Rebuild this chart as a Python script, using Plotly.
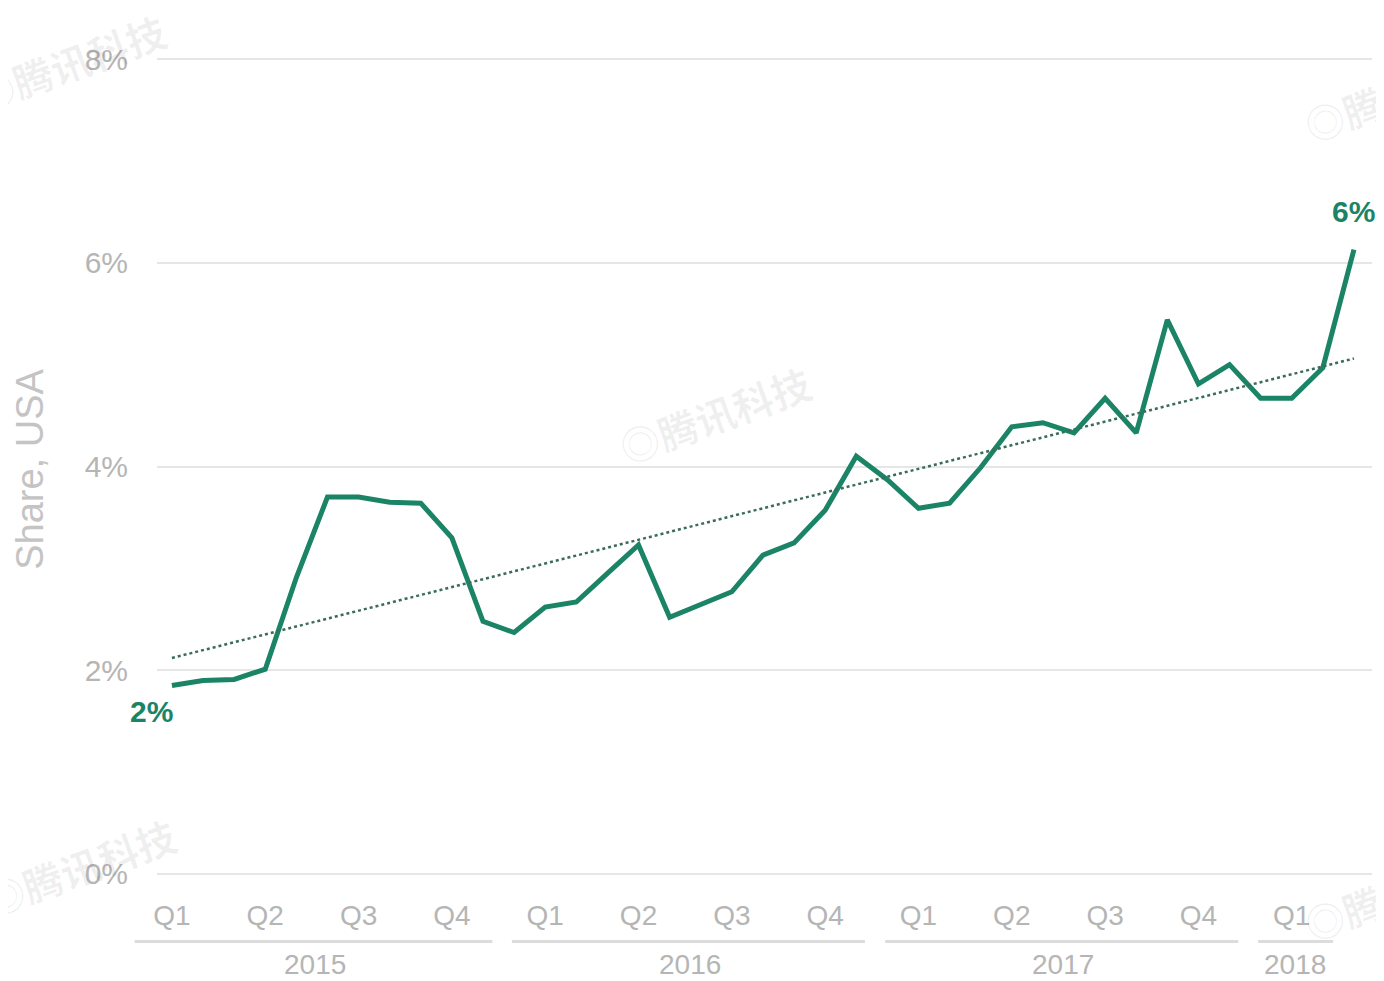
import pandas as pd
import plotly.graph_objects as go

# monthly share, USA (%)
months = [p.strftime("%Y-%m") for p in pd.period_range("2015-01", "2018-03", freq="M")]
share = [1.85, 1.90, 1.91, 2.01, 2.91, 3.70, 3.70, 3.65, 3.64, 3.30, 2.48, 2.37,
         2.62, 2.67, 2.95, 3.23, 2.52, 2.65, 2.77, 3.13, 3.25, 3.57, 4.10, 3.87,
         3.59, 3.64, 3.99, 4.39, 4.43, 4.33, 4.67, 4.33, 5.44, 4.81, 5.00, 4.67,
         4.67, 4.97, 6.13]
trend = [2.12, 5.06]
quarter_labels = ["Q1", "Q2", "Q3", "Q4"] * 3 + ["Q1"]
years = ["2015", "2016", "2017", "2018"]
y_ticks = [0, 2, 4, 6, 8]

GREEN = "#1b8466"
GREY = "#b5b5b5"
FONT = "Liberation Sans, Arial, sans-serif"
X0, X1 = -0.48, 38.58


def px(i):
    # category index -> paper x
    return (i - X0) / (X1 - X0)


fig = go.Figure()
fig.add_trace(go.Scatter(x=months, y=share, mode="lines",
                         line=dict(color=GREEN, width=5)))
fig.add_trace(go.Scatter(x=[months[0], months[-1]], y=trend, mode="lines",
                         line=dict(color="#3b6b5c", width=2.5, dash="dot"),
                         hoverinfo="skip"))

# end labels
fig.add_annotation(x=months[0], y=share[0], text=f"{round(share[0])}%", showarrow=False,
                   xshift=-20, yshift=-26, font=dict(size=30, color=GREEN, family=FONT, weight="bold"))
fig.add_annotation(x=months[-1], y=share[-1], text=f"{round(share[-1])}%", showarrow=False,
                   yshift=38, font=dict(size=30, color=GREEN, family=FONT, weight="bold"))

# year grouping under the quarter labels
year_spans = [(-1.2, 10.3), (10.93, 22.28), (22.93, 34.28), (34.92, 37.33)]
year_centers = [4.6, 16.65, 28.65, 36.1]
for yr, (a, b), c in zip(years, year_spans, year_centers):
    fig.add_shape(type="line", xref="paper", yref="paper", x0=px(a), x1=px(b), y0=-0.08, y1=-0.08,
                  line=dict(color="#dcdcdc", width=3))
    fig.add_annotation(xref="paper", yref="paper", x=px(c), y=-0.108, text=yr, showarrow=False,
                       xanchor="center", yanchor="middle",
                       font=dict(size=28, color=GREY, family=FONT))

# y axis title
fig.add_annotation(xref="paper", yref="paper", x=-0.1045, y=0.496,
                   text="Share, USA", textangle=-90, showarrow=False,
                   xanchor="center", yanchor="middle",
                   font=dict(size=38, color="#c4c4c4", family=FONT))

# faint watermarks
wm = dict(size=40, color="rgba(0,0,0,0.06)", family="Noto Sans CJK SC", weight="bold")
for wx, wy in [(-0.072, 0.993), (0.459, 0.563), (-0.063, 0.011), (1.023, 0.956), (1.023, -0.02)]:
    fig.add_annotation(xref="paper", yref="paper", x=wx, y=wy, text="◎腾讯科技", textangle=-20,
                       showarrow=False, xanchor="center", yanchor="middle", font=wm)

fig.update_xaxes(type="category", categoryorder="array", categoryarray=months,
                 range=[X0, X1], tickvals=months[::3], ticktext=quarter_labels,
                 tickfont=dict(size=28, color=GREY, family=FONT), ticklabelstandoff=20,
                 showgrid=False, zeroline=False, showline=False, ticks="")
fig.update_yaxes(range=[-0.02, 8.02], tickvals=y_ticks, ticktext=[f"{v}%" for v in y_ticks],
                 tickfont=dict(size=30, color=GREY, family=FONT), ticklabelstandoff=28,
                 gridcolor="#e6e6e6", gridwidth=2, zeroline=False, showline=False, ticks="")
# page body adds an 8px margin, so the figure is 8px smaller each way
fig.update_layout(width=1376, height=973, showlegend=False,
                  margin=dict(l=149, r=12, t=49, b=105),
                  plot_bgcolor="white", paper_bgcolor="white")

fig.write_html("out.html")
